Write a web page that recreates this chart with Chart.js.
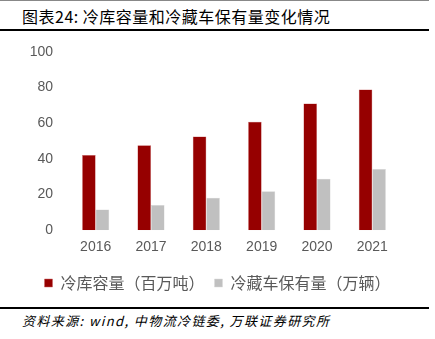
<!DOCTYPE html>
<html>
<head>
<meta charset="utf-8">
<script src="https://cdn.jsdelivr.net/npm/chart.js@4.4.0/dist/chart.umd.min.js"></script>
<style>
  html, body { margin: 0; padding: 0; background: #fff; }
  #page { position: relative; width: 435px; height: 339px; overflow: hidden; }
  .rule { position: absolute; left: 0; width: 429px; background: #000; }
  #title { position: absolute; left: 22px; top: 4px; font: 16px "Noto Sans CJK SC", sans-serif; letter-spacing: 0.5px; color: #000; }
  #source { position: absolute; left: 22px; top: 311px; font: italic 13px "Noto Sans CJK SC", sans-serif; letter-spacing: 1.4px; color: #000; }
  #box { position: absolute; left: 0; top: 0; width: 435px; height: 305px; }
</style>
</head>
<body>
<div id="page">
  <div class="rule" style="top:0;height:1px;background:#888"></div>
  <div id="title">图表24: 冷库容量和冷藏车保有量变化情况</div>
  <div class="rule" style="top:29px;height:2px"></div>
  <div id="box"><canvas id="myChart"></canvas></div>
  <div class="rule" style="top:307px;height:2px"></div>
  <div id="source">资料来源: wind, 中物流冷链委, 万联证券研究所</div>
</div>
<script>
// Datos
const anios = ["2016", "2017", "2018", "2019", "2020", "2021"];
const capacidadFrio = [42.2, 47.7, 52.6, 60.8, 71.1, 79.0];   // 冷库容量（百万吨）
const camionesFrio = [11.6, 14.1, 18.2, 21.8, 28.9, 34.3];    // 冷藏车保有量（万辆）
const etiquetas = ["冷库容量（百万吨）", "冷藏车保有量（万辆）"];

const rojo = "#960000";
const gris = "#c0c0c0";
const textoGris = "#595959";

// La leyenda se centra sobre todo el ancho del canvas (no solo hasta el padding derecho)
const centrarLeyenda = {
    id: "centrarLeyenda",
    afterLayout(chart) {
        const leyenda = chart.legend;
        leyenda.left = 0;
        leyenda.right = chart.width;
        leyenda.width = chart.width;
    },
};

const ctx = document.getElementById("myChart");
new Chart(ctx, {
    type: "bar",
    data: {
        labels: anios,
        datasets: [
            { label: etiquetas[0], data: capacidadFrio, backgroundColor: rojo, borderColor: "#c86464", borderWidth: 0.5 },
            { label: etiquetas[1], data: camionesFrio, backgroundColor: gris, borderColor: "#d8d8d8", borderWidth: 0.5 },
        ],
    },
    plugins: [centrarLeyenda],
    options: {
        responsive: true,
        maintainAspectRatio: false,
        animation: false,
        layout: {
            padding: { top: 52, right: 35, left: 0, bottom: 4 },
        },
        datasets: {
            bar: { categoryPercentage: 0.49, barPercentage: 1.0 },
        },
        scales: {
            x: {
                grid: { display: false, drawTicks: false },
                border: { display: false },
                ticks: { color: textoGris, font: { size: 14, family: "Liberation Sans, Arial, sans-serif" }, padding: 9 },
            },
            y: {
                min: 0,
                max: 100,
                grid: { display: false, drawTicks: false },
                border: { display: false },
                ticks: { stepSize: 20, color: textoGris, font: { size: 14, family: "Liberation Sans, Arial, sans-serif" }, padding: 15 },
                afterFit: (scale) => { scale.width = 68; },
            },
        },
        plugins: {
            legend: {
                position: "bottom",
                labels: {
                    boxWidth: 8,
                    boxHeight: 8,
                    padding: 10,
                    color: textoGris,
                    font: { size: 16, family: "Noto Sans CJK SC" },
                },
            },
            tooltip: { enabled: false },
        },
    },
});
</script>
</body>
</html>
